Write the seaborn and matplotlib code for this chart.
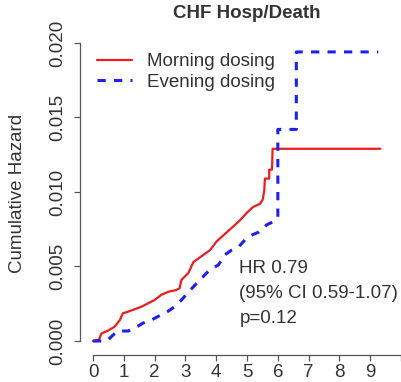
import numpy as np
import pandas as pd
import matplotlib
matplotlib.use("Agg")
import matplotlib.pyplot as plt
import seaborn as sns

# ---- data ----
morning_time = [0.00, 0.20, 0.27, 0.49, 0.70, 0.87, 0.97, 1.14, 1.35, 1.57, 1.79, 2.00,
                2.22, 2.44, 2.70, 2.81, 2.87, 3.03, 3.09, 3.26, 3.53, 3.80, 4.02, 4.29,
                4.56, 4.77, 4.99, 5.20, 5.42, 5.51, 5.56, 5.58, 5.72, 5.72, 5.81, 5.83, 9.33]
morning_hazard = [0.0000, 0.0001, 0.0005, 0.0007, 0.00096, 0.0014, 0.00186, 0.00197, 0.00213,
                  0.0023, 0.00253, 0.00275, 0.0031, 0.0033, 0.00342, 0.00354, 0.0041, 0.00443,
                  0.00454, 0.0053, 0.0057, 0.0061, 0.0067, 0.0072, 0.0077, 0.0081, 0.0086,
                  0.0090, 0.0092, 0.0095, 0.0101, 0.0109, 0.0109, 0.0115, 0.0115, 0.0129, 0.0129]

evening_time = [0.00, 0.45, 0.65, 0.81, 1.14, 1.35, 1.62, 1.89, 2.16, 2.44, 2.65, 2.87,
                3.15, 3.47, 3.80, 4.07, 4.29, 4.50, 4.72, 4.94, 5.15, 5.37, 5.64, 5.85,
                5.98, 6.00, 6.00, 6.60, 6.60, 9.26]
evening_hazard = [0.0000, 0.0000, 0.0004, 0.00067, 0.00067, 0.00085, 0.0012, 0.0014, 0.0017,
                  0.0020, 0.0023, 0.00275, 0.0034, 0.0041, 0.0048, 0.0051, 0.0058, 0.0061,
                  0.0063, 0.0068, 0.0071, 0.0073, 0.0078, 0.0080, 0.0082, 0.0083, 0.0142,
                  0.0142, 0.0194, 0.0194]

series_labels = ["Morning dosing", "Evening dosing"]
x_ticks = [0, 1, 2, 3, 4, 5, 6, 7, 8, 9, 10]
x_tick_labels = ["0", "1", "2", "3", "4", "5", "6", "7", "8", "9", ""]
y_ticks = [0.000, 0.005, 0.010, 0.015, 0.020]
y_tick_labels = ["0.000", "0.005", "0.010", "0.015", "0.020"]
title = "CHF Hosp/Death"
y_label = "Cumulative Hazard"
annotation_lines = ["HR 0.79", "(95% CI 0.59-1.07)", "p=0.12"]

# ---- style ----
sns.set_style("white")
plt.rcParams["font.family"] = ["Liberation Sans", "DejaVu Sans"]
TXT = "#333333"
AX = "#555555"
RED = "#ee1c1c"
BLUE = "#2020ee"
FS = 13.5

W, H = 402, 382
fig = plt.figure(figsize=(W / 100, H / 100), dpi=100)
ax = fig.add_axes([80 / W, 27 / H, 322 / W, 325 / H])

df_m = pd.DataFrame({"time": morning_time, "hazard": morning_hazard})
df_e = pd.DataFrame({"time": evening_time, "hazard": evening_hazard})

sns.lineplot(data=df_m, x="time", y="hazard", ax=ax, color=RED, linewidth=1.6,
             estimator=None, sort=False, label=series_labels[0])
sns.lineplot(data=df_e, x="time", y="hazard", ax=ax, color=BLUE, linewidth=2.2,
             linestyle=(0, (2.7, 2.7)), estimator=None, sort=False, label=series_labels[1])

ax.set_xlim(-0.422, 10.03)
ax.set_ylim(-0.00094, -0.00094 + 325 / 14900)

ax.set_xticks(x_ticks)
ax.set_xticklabels(x_tick_labels)
ax.set_yticks(y_ticks)
ax.set_yticklabels(y_tick_labels)
for lab in ax.get_yticklabels():
    lab.set_rotation(90)
    lab.set_va("center")
    lab.set_ha("right")

ax.tick_params(axis="both", which="major", bottom=True, left=True,
               direction="out", length=4, width=0.9, color=AX,
               labelsize=FS, labelcolor=TXT)
ax.tick_params(axis="y", pad=6)
ax.tick_params(axis="x", pad=2.5)
ax.set_xlabel("")
ax.set_ylabel("")

for s in ["top", "right"]:
    ax.spines[s].set_visible(False)
for s in ["left", "bottom"]:
    ax.spines[s].set_color(AX)
    ax.spines[s].set_linewidth(0.9)
ax.spines["left"].set_bounds(0, 0.020)
ax.spines["bottom"].set_bounds(0, 10)

leg = ax.legend(loc="upper left", bbox_to_anchor=(97 / W, 1 - 53 / H),
                bbox_transform=fig.transFigure, frameon=False, fontsize=FS,
                handlelength=1.87, handletextpad=0.8, labelspacing=0.18,
                borderpad=0, borderaxespad=0)
for t in leg.get_texts():
    t.set_color(TXT)

fig.text(247 / W, 1 - 14 / H, title, ha="center", va="center",
         fontsize=FS, fontweight="bold", color=TXT)
fig.text(17.5 / W, 1 - 193 / H, y_label, rotation=90, ha="center", va="center",
         fontsize=FS, color=TXT)
for line, yb in zip(annotation_lines, [273, 298, 323]):
    fig.text(239.5 / W, 1 - yb / H, line, ha="left", va="baseline",
             fontsize=FS, color=TXT)

fig.savefig("out.png", dpi=100)
